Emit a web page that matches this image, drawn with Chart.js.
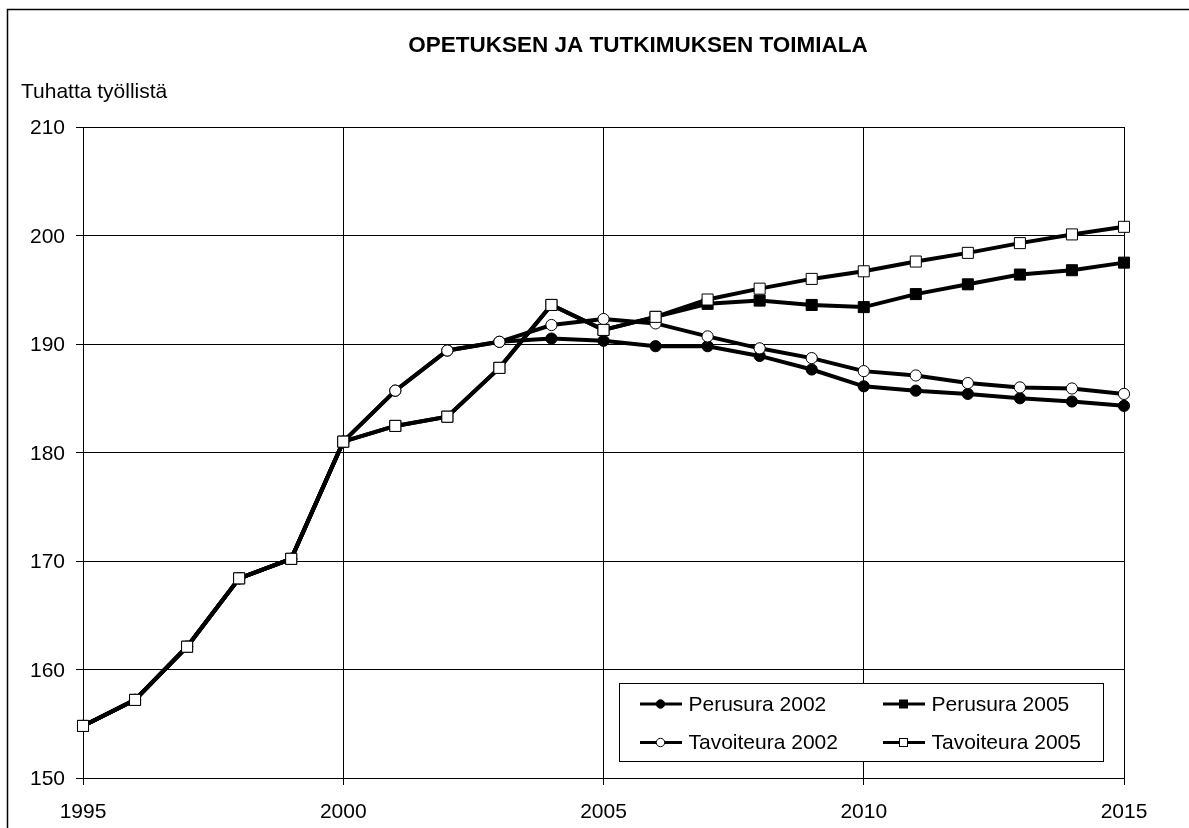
<!DOCTYPE html>
<html>
<head>
<meta charset="utf-8">
<script src="https://cdn.jsdelivr.net/npm/chart.js@4/dist/chart.umd.min.js"></script>
<style>
    html, body { margin: 0; padding: 0; background: #fff; }
    #wrap { position: relative; width: 1189px; height: 828px; }
</style>
</head>
<body>
<div id="wrap"><canvas id="myChart" width="1189" height="828"></canvas></div>
<script>
const titleText = 'OPETUKSEN JA TUTKIMUKSEN TOIMIALA';
const yAxisLabel = 'Tuhatta työllistä';

const years = [1995, 1996, 1997, 1998, 1999, 2000, 2001, 2002, 2003, 2004, 2005,
    2006, 2007, 2008, 2009, 2010, 2011, 2012, 2013, 2014, 2015];

const perusura2002 = [154.8, 157.2, 162.1, 168.4, 170.2, 181.0, 185.7, 189.4, 190.2, 190.5, 190.3,
    189.8, 189.8, 188.9, 187.65, 186.1, 185.7, 185.4, 185.0, 184.7, 184.3];
const perusura2005 = [154.8, 157.2, 162.1, 168.4, 170.2, 181.0, 182.45, 183.3, 187.8, 193.6, 191.3,
    192.5, 193.7, 194.0, 193.6, 193.4, 194.6, 195.5, 196.4, 196.8, 197.5];
const tavoiteura2002 = [154.8, 157.2, 162.1, 168.4, 170.2, 181.0, 185.7, 189.4, 190.2, 191.75, 192.3,
    191.9, 190.7, 189.6, 188.7, 187.5, 187.1, 186.4, 186.0, 185.9, 185.4];
const tavoiteura2005 = [154.8, 157.2, 162.1, 168.4, 170.2, 181.0, 182.45, 183.3, 187.8, 193.6, 191.3,
    192.5, 194.1, 195.1, 196.0, 196.7, 197.6, 198.4, 199.3, 200.1, 200.8];

const xTicks = [1995, 2000, 2005, 2010, 2015];
const yTicks = [150, 160, 170, 180, 190, 200, 210];

const FONT = '"Liberation Sans", Arial, sans-serif';

function toPoints(values)
{
    return years.map((yr, i) => ({ x: yr, y: values[i] }));
}

function series(label, values, pointStyle, filled, order)
{
    return {
        label: label,
        data: toPoints(values),
        borderColor: '#000',
        borderWidth: 4,
        backgroundColor: filled ? '#000' : '#fff',
        pointStyle: pointStyle,
        pointRadius: pointStyle === 'rect' ? 7.8 : 5.6,
        pointBorderWidth: 1,
        pointBorderColor: '#000',
        pointBackgroundColor: filled ? '#000' : '#fff',
        tension: 0,
        clip: false,
        order: order
    };
}

// frame, title, axis caption and the boxed legend
const decorations = {
    id: 'decorations',
    beforeDraw(chart)
    {
        const ctx = chart.ctx;
        ctx.save();
        ctx.fillStyle = '#fff';
        ctx.fillRect(0, 0, chart.width, chart.height);
        ctx.strokeStyle = '#000';
        ctx.lineWidth = 1.5;
        ctx.strokeRect(7.5, 9.5, 1300, 900);
        ctx.fillStyle = '#000';
        ctx.textBaseline = 'alphabetic';
        ctx.font = 'bold 22.5px ' + FONT;
        ctx.textAlign = 'center';
        ctx.fillText(titleText, 638, 52);
        ctx.font = '21px ' + FONT;
        ctx.textAlign = 'left';
        ctx.fillText(yAxisLabel, 21, 97.5);
        ctx.restore();
    },
    afterDatasetsDraw(chart)
    {
        const ctx = chart.ctx;
        const box = { left: 619.5, top: 683.5, right: 1103.5, bottom: 761.5 };
        const cols = [640, 883];
        const rows = [704, 742.5];
        ctx.save();
        ctx.fillStyle = '#fff';
        ctx.fillRect(box.left, box.top, box.right - box.left, box.bottom - box.top);
        ctx.strokeStyle = '#000';
        ctx.lineWidth = 1;
        ctx.strokeRect(box.left, box.top, box.right - box.left, box.bottom - box.top);
        chart.data.datasets.forEach((ds, i) =>
        {
            const x0 = cols[i % 2];
            const y = rows[Math.floor(i / 2)];
            ctx.strokeStyle = '#000';
            ctx.lineWidth = 3;
            ctx.beginPath();
            ctx.moveTo(x0, y);
            ctx.lineTo(x0 + 42, y);
            ctx.stroke();
            ctx.lineWidth = 1;
            ctx.fillStyle = ds.pointBackgroundColor;
            if (ds.pointStyle === 'rect')
            {
                ctx.fillRect(x0 + 16.5, y - 4, 8, 8);
                ctx.strokeRect(x0 + 16.5, y - 4, 8, 8);
            }
            else
            {
                ctx.beginPath();
                ctx.arc(x0 + 20.5, y, 4.2, 0, Math.PI * 2);
                ctx.fill();
                ctx.stroke();
            }
            ctx.fillStyle = '#000';
            ctx.font = '21px ' + FONT;
            ctx.textAlign = 'left';
            ctx.textBaseline = 'middle';
            ctx.fillText(ds.label, x0 + 48.5, y + 1);
        });
        ctx.restore();
    }
};

const chartContext = document.getElementById('myChart').getContext('2d');

new Chart(chartContext, {
    type: 'line',
    data: {
        datasets: [
            series('Perusura 2002', perusura2002, 'circle', true, 4),
            series('Perusura 2005', perusura2005, 'rect', true, 3),
            series('Tavoiteura 2002', tavoiteura2002, 'circle', false, 2),
            series('Tavoiteura 2005', tavoiteura2005, 'rect', false, 1)
        ]
    },
    options: {
        responsive: false,
        animation: false,
        layout: {
            padding: { top: 127, bottom: 0, left: 0, right: 65 }
        },
        plugins: {
            legend: { display: false },
            tooltip: { enabled: false },
            title: { display: false }
        },
        scales: {
            x: {
                type: 'linear',
                min: xTicks[0],
                max: xTicks[xTicks.length - 1],
                afterBuildTicks: (scale) =>
                {
                    scale.ticks = xTicks.map(v => ({ value: v }));
                },
                afterFit: (scale) =>
                {
                    scale.height = 50;
                },
                grid: {
                    color: '#000',
                    lineWidth: 1,
                    tickLength: 7
                },
                border: { color: '#000', width: 1 },
                ticks: {
                    color: '#000',
                    padding: 15,
                    maxRotation: 0,
                    font: { family: FONT, size: 21 },
                    callback: (value) => String(value)
                }
            },
            y: {
                type: 'linear',
                min: yTicks[0],
                max: yTicks[yTicks.length - 1],
                afterBuildTicks: (scale) =>
                {
                    scale.ticks = yTicks.map(v => ({ value: v }));
                },
                afterFit: (scale) =>
                {
                    scale.width = 83;
                },
                grid: {
                    color: '#000',
                    lineWidth: 1,
                    tickLength: 7
                },
                border: { color: '#000', width: 1 },
                ticks: {
                    color: '#000',
                    padding: 11,
                    labelOffset: 1.5,
                    font: { family: FONT, size: 21 },
                    callback: (value) => String(value)
                }
            }
        }
    },
    plugins: [decorations]
});
</script>
</body>
</html>
